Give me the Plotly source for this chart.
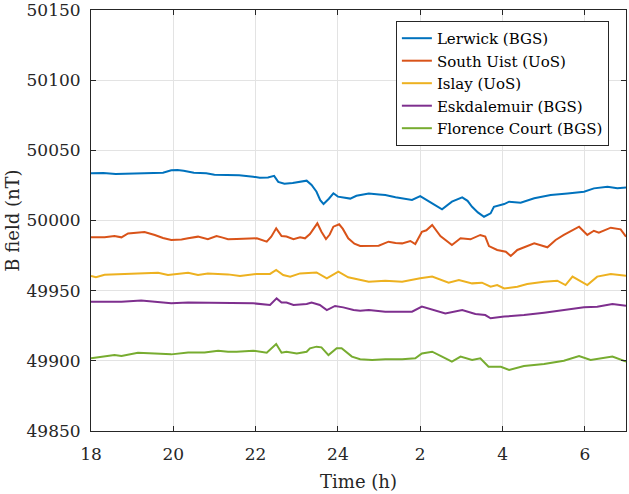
import plotly.graph_objects as go

# ---- data (time in hours; after midnight continues as 24+h) ----
lerwick_t = [18.0, 18.3, 18.6, 18.9, 19.2, 19.5, 19.75, 19.95, 20.1, 20.25, 20.5, 20.8, 21.0, 21.3, 21.6,
             21.94, 22.1, 22.3, 22.45, 22.55, 22.7, 22.9, 23.1, 23.24, 23.36, 23.48, 23.57, 23.65, 23.78,
             23.89, 24.0, 24.13, 24.3, 24.45, 24.75, 25.0, 25.15, 25.4, 25.56, 25.8, 26.0, 26.15, 26.29,
             26.53, 26.77, 27.02, 27.15, 27.26, 27.4, 27.55, 27.66, 27.71, 27.79, 28.04, 28.16, 28.44,
             28.77, 29.17, 29.58, 29.98, 30.22, 30.55, 30.79, 31.0]
lerwick_v = [50033.6, 50033.8, 50033.2, 50033.5, 50033.4, 50033.6, 50034.0, 50035.8, 50036.0, 50035.4,
             50034.0, 50033.6, 50032.6, 50032.4, 50032.2, 50031.2, 50030.5, 50030.6, 50031.8, 50027.5,
             50026.2, 50026.8, 50027.8, 50028.4, 50025.3, 50020.5, 50014.5, 50011.8, 50015.5, 50019.4,
             50017.0, 50016.2, 50015.6, 50017.6, 50019.3, 50018.6, 50018.2, 50016.6, 50015.8, 50014.6,
             50017.4, 50015.0, 50012.2, 50008.0, 50013.4, 50016.5, 50014.0, 50009.8, 50005.8, 50002.7,
             50004.0, 50005.1, 50009.8, 50011.7, 50013.4, 50012.7, 50015.8, 50018.2, 50019.3, 50020.5,
             50022.9, 50024.1, 50023.0, 50023.6]

south_uist_t = [18.0, 18.33, 18.57, 18.74, 18.9, 19.1, 19.3, 19.55, 19.75, 19.95, 20.2, 20.36, 20.6, 20.84,
                21.05, 21.2, 21.33, 21.54, 21.8, 22.03, 22.27, 22.38, 22.5, 22.63, 22.75, 22.92, 23.08,
                23.2, 23.32, 23.42, 23.5, 23.6, 23.71, 23.8, 23.89, 24.03, 24.12, 24.25, 24.4, 24.54,
                24.67, 24.99, 25.23, 25.4, 25.56, 25.76, 25.88, 26.04, 26.15, 26.29, 26.49, 26.77, 26.98,
                27.22, 27.46, 27.58, 27.67, 27.87, 28.08, 28.2, 28.36, 28.77, 29.09, 29.29, 29.49, 29.86,
                30.06, 30.22, 30.34, 30.63, 30.87, 31.0]
south_uist_v = [49988.0, 49988.0, 49988.9, 49988.0, 49990.8, 49991.2, 49991.8, 49989.7, 49987.5, 49986.1,
                49986.4, 49987.3, 49988.5, 49986.6, 49988.9, 49987.8, 49986.6, 49986.8, 49987.0, 49987.3,
                49984.9, 49988.5, 49994.4, 49988.9, 49988.6, 49986.6, 49988.0, 49987.3, 49990.4, 49994.5,
                49998.0, 49992.0, 49986.8, 49990.0, 49995.6, 49997.3, 49994.0, 49987.3, 49983.5, 49981.8,
                49981.8, 49982.0, 49984.9, 49984.0, 49983.7, 49985.4, 49983.2, 49992.0, 49993.0, 49996.8,
                49988.9, 49982.5, 49987.3, 49986.6, 49989.7, 49988.5, 49981.8, 49979.0, 49977.8, 49974.7,
                49979.0, 49983.7, 49980.9, 49986.1, 49989.7, 49995.6, 49989.7, 49992.7, 49991.4, 49994.9,
                49993.7, 49988.5]

islay_t = [18.0, 18.12, 18.33, 18.74, 19.14, 19.63, 19.87, 20.36, 20.6, 20.84, 21.33, 21.62, 22.03, 22.35,
           22.5, 22.67, 22.84, 23.08, 23.48, 23.73, 24.01, 24.25, 24.54, 24.75, 25.15, 25.56, 26.0, 26.29,
           26.69, 26.94, 27.26, 27.5, 27.71, 27.87, 28.04, 28.36, 28.6, 29.01, 29.33, 29.53, 29.7, 29.9,
           30.06, 30.3, 30.63, 31.0]
islay_v = [49960.4, 49959.5, 49961.4, 49961.6, 49962.3, 49962.8, 49961.2, 49962.8, 49961.2, 49962.3,
           49961.6, 49960.4, 49961.9, 49961.9, 49964.7, 49961.2, 49960.0, 49962.3, 49963.0, 49958.8,
           49963.5, 49959.5, 49957.6, 49956.4, 49957.1, 49956.4, 49958.8, 49960.0, 49955.7, 49957.6,
           49955.2, 49955.7, 49952.8, 49954.0, 49951.6, 49952.8, 49954.7, 49956.4, 49957.1, 49954.0,
           49960.0, 49956.4, 49954.0, 49960.0, 49961.9, 49960.7]

eskdalemuir_t = [18.0, 18.74, 19.22, 19.55, 19.95, 20.36, 21.17, 21.94, 22.35, 22.51, 22.63, 22.75, 22.92,
                 23.24, 23.36, 23.56, 23.73, 23.93, 24.13, 24.38, 24.54, 24.75, 25.15, 25.56, 25.8, 26.04,
                 26.29, 26.61, 27.02, 27.34, 27.58, 27.71, 28.04, 28.52, 29.01, 29.49, 29.98, 30.3, 30.67,
                 31.0]
eskdalemuir_v = [49942.1, 49942.1, 49942.9, 49942.1, 49941.0, 49941.5, 49941.5, 49941.0, 49939.8, 49944.5,
                 49941.5, 49941.5, 49939.8, 49940.5, 49941.5, 49939.8, 49936.2, 49939.1, 49938.1, 49936.2,
                 49935.7, 49936.2, 49935.0, 49935.0, 49935.0, 49938.6, 49936.7, 49933.8, 49936.2, 49933.4,
                 49932.6, 49930.3, 49931.5, 49932.6, 49934.3, 49936.2, 49938.1, 49938.6, 49940.5, 49939.3]

florence_t = [18.0, 18.25, 18.57, 18.74, 19.14, 19.55, 19.95, 20.36, 20.76, 21.09, 21.33, 21.54, 21.94,
              22.27, 22.5, 22.63, 22.75, 23.0, 23.24, 23.32, 23.48, 23.6, 23.77, 23.97, 24.09, 24.34, 24.54,
              24.83, 25.15, 25.56, 25.88, 26.04, 26.29, 26.53, 26.77, 26.98, 27.26, 27.46, 27.66, 27.96,
              28.16, 28.52, 29.01, 29.49, 29.86, 30.14, 30.38, 30.67, 31.0]
florence_v = [49901.8, 49903.0, 49904.1, 49903.4, 49905.8, 49905.3, 49904.6, 49906.0, 49906.0, 49907.2,
              49906.5, 49906.5, 49907.2, 49905.8, 49912.0, 49905.8, 49906.5, 49905.3, 49906.5, 49908.9,
              49910.1, 49909.6, 49904.1, 49908.9, 49908.9, 49903.0, 49901.1, 49900.6, 49901.1, 49901.1,
              49901.8, 49905.3, 49906.5, 49903.0, 49899.4, 49903.0, 49900.6, 49901.8, 49895.8, 49895.8,
              49893.5, 49896.3, 49897.7, 49900.1, 49903.4, 49900.6, 49901.8, 49903.0, 49899.4]

tick_vals = [18, 20, 22, 24, 26, 28, 30]
tick_text = ["18", "20", "22", "24", "2", "4", "6"]
y_ticks = [49850, 49900, 49950, 50000, 50050, 50100, 50150]

series = [
    ("Lerwick (BGS)", lerwick_t, lerwick_v, "#0072BD"),
    ("South Uist (UoS)", south_uist_t, south_uist_v, "#D95319"),
    ("Islay (UoS)", islay_t, islay_v, "#EDB120"),
    ("Eskdalemuir (BGS)", eskdalemuir_t, eskdalemuir_v, "#7E2F8E"),
    ("Florence Court (BGS)", florence_t, florence_v, "#77AC30"),
]

FONT = "DejaVu Serif"
AX = "#262626"

fig = go.Figure()
for name, t, v, c in series:
    fig.add_trace(go.Scatter(x=t, y=v, mode="lines", name=name,
                             line=dict(color=c, width=2)))

fig.update_layout(
    width=629, height=494,
    margin=dict(l=91, r=3, t=10, b=63),
    paper_bgcolor="white", plot_bgcolor="white",
    font=dict(family=FONT, color=AX, size=17),
    showlegend=True,
    legend=dict(x=0.968, y=0.974, xanchor="right", yanchor="top",
                bgcolor="white", bordercolor=AX, borderwidth=1,
                font=dict(family=FONT, size=15, color="black"),
                tracegroupgap=0),
)
fig.update_xaxes(
    range=[18, 31], tickvals=tick_vals, ticktext=tick_text, automargin=False,
    showline=True, linecolor=AX, linewidth=1, mirror="ticks",
    ticks="inside", ticklen=5, tickcolor=AX,
    showgrid=True, gridcolor="#e3e3e3", gridwidth=1, zeroline=False,
    tickfont=dict(family=FONT, size=17, color=AX),
    ticklabelstandoff=8, ticklabeloverflow="allow",
    title=dict(text="Time (h)", font=dict(family=FONT, size=18, color=AX), standoff=11),
)
fig.update_yaxes(
    range=[49849.99, 50150.01], tickvals=y_ticks, tickformat="d", automargin=False,
    showline=True, linecolor=AX, linewidth=1, mirror="ticks",
    ticks="inside", ticklen=5, tickcolor=AX,
    showgrid=True, gridcolor="#e3e3e3", gridwidth=1, zeroline=False,
    tickfont=dict(family=FONT, size=17, color=AX),
    ticklabelstandoff=6, ticklabeloverflow="allow",
    title=dict(text="B field (nT)", font=dict(family=FONT, size=18, color=AX), standoff=2),
)

fig.write_html("out.html", config={"displayModeBar": False},
               post_script="document.body.style.margin='0';")
